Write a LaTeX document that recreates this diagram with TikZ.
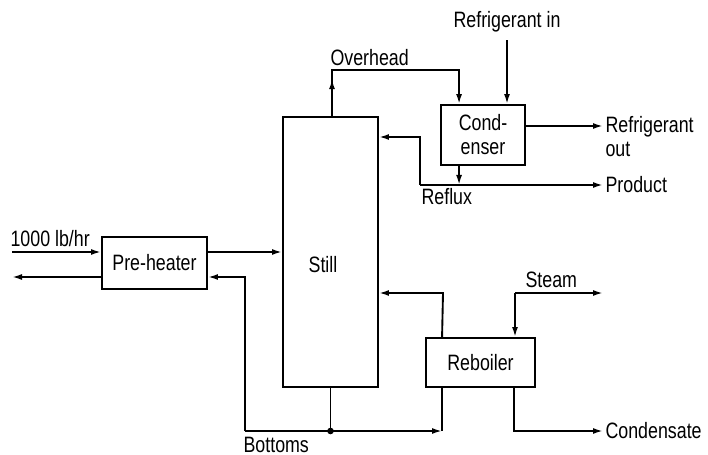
\documentclass[tikz,border=0pt]{standalone}
\usepackage{fontspec}
\setmainfont{Liberation Sans}[FakeStretch=0.8]
\usetikzlibrary{arrows.meta,calc,positioning}

\begin{document}
\begin{tikzpicture}[
    x=0.03cm,y=-0.03cm,
    font=\fontsize{19}{20.5}\selectfont,
    unit/.style={draw,line width=1.6pt,align=center,inner sep=0pt},
    lbl/.style={inner sep=2pt,align=left},
    pipe/.style={line width=1.6pt},
    arrow/.style={-{Latex[length=3mm,width=1.8mm]},line width=1.6pt}
  ]
    \useasboundingbox (0,0) rectangle (708,455);
    % process units
    \node[unit,minimum width=2.85cm,minimum height=8.1cm] (still) at (330.5,252) {};
    \node (stilltxt) at (323,265) {Still};
    \node[unit,minimum width=3.15cm,minimum height=1.56cm] (pre) at (154.5,263) {Pre-heater};
    \node[unit,minimum width=2.52cm,minimum height=1.8cm] (cond) at (483,135) {Cond-\\enser};
    \node[unit,minimum width=3.27cm,minimum height=1.47cm] (reb) at (480.5,362.5) {Reboiler};

    % stream labels
    \node[lbl,anchor=base west] (feedtxt) at (8,246) {1000 lb/hr};
    \node[lbl,anchor=base west] (ovhtxt) at (328,66) {Overhead};
    \node[lbl,anchor=base] (refin) at (507,28) {Refrigerant in};
    \node[lbl,anchor=west] (refout) at (603,137) {Refrigerant\\out};
    \node[lbl,anchor=west] (prod) at (603,185) {Product};
    \node[lbl,anchor=base west] (rfxtxt) at (419,205) {Reflux};
    \node[lbl,anchor=base west] (steamtxt) at (523,287) {Steam};
    \node[lbl,anchor=west] (cnd) at (603,431) {Condensate};
    \node[lbl,anchor=base west] (btmtxt) at (241,452) {Bottoms};

    % feed and pre-heater
    \coordinate (feedin) at (12,252);
    \coordinate (hotout) at (12,277);
    \draw[arrow] (feedin) -- (feedin -| pre.west);
    \draw[arrow] (hotout -| pre.west) -- (hotout);
    \draw[arrow] (feedin -| pre.east) -- (feedin -| still.west);

    % overhead and condenser
    \coordinate (ovh) at (332,70);
    \coordinate (cdin) at ($(cond.north west)+(19,0)$);
    \coordinate (cdout) at ($(cond.south west)+(19,0)$);
    \coordinate (rfo) at ($(cond.east)+(0,-9)$);
    \draw[arrow] (still.north -| ovh) -- ($(still.north -| ovh)+(0,-37)$);
    \draw[arrow] (still.north -| ovh) -- (ovh) -| (cdin);
    \draw[arrow] ($(refin.south)+(0,5)$) -- (refin.south |- cond.north);
    \draw[arrow] (rfo) -- (rfo -| refout.west);

    % reflux and product
    \coordinate (rfx) at (420,185);
    \coordinate (rfxtop) at (420,137);
    \draw[arrow] (cdout) -- (cdout |- rfx);
    \draw[arrow] (rfx) -- (prod.west);
    \draw[arrow] (rfx) -- (rfxtop) -- (rfxtop -| still.east);

    % bottoms
    \coordinate (btm) at (245,431);
    \coordinate (rbin) at ($(reb.south west)+(17,0)$);
    \draw[pipe] (still.south) -- (still.south |- btm);
    \fill (still.south |- btm) circle[radius=2.8pt];
    \draw[arrow] (btm) -- (rbin |- btm);
    \draw[pipe] (rbin |- btm) -- (rbin);
    \draw[arrow] (btm) -- (btm |- hotout) -- (hotout -| pre.east);

    % reboiler
    \coordinate (rbup) at ($(reb.north west)+(17,0)$);
    \coordinate (vap) at (443,293);
    \draw[arrow] (rbup) -- (vap) -- (vap -| still.east);
    \coordinate (stm) at (515,293);
    \coordinate (stmout) at (603,293);
    \draw[arrow] (stm) -- (stmout);
    \draw[arrow] (stm) -- (stm |- reb.north);
    \coordinate (rbout) at ($(reb.south west)+(89,0)$);
    \draw[arrow] (rbout) -- (rbout |- cnd.west) -- (cnd.west);
\end{tikzpicture}
\end{document}
